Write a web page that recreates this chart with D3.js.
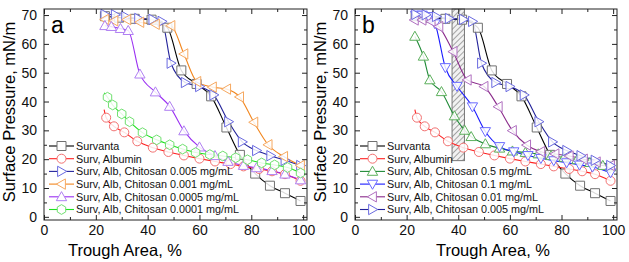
<!DOCTYPE html>
<html>
<head>
<meta charset="utf-8">
<script src="https://cdn.jsdelivr.net/npm/d3@7"></script>
<style>
  body { margin: 0; background: #fff; }
  svg { font-family: "Liberation Sans", Arial, sans-serif; }
</style>
</head>
<body>
<svg id="chart" width="629" height="262"></svg>
<script>
// tick values
const xTicks = [0, 20, 40, 60, 80, 100];
const yTicks = [0, 10, 20, 30, 40, 50, 60, 70];

// series data, [trough area %, surface pressure mN/m]
const survanta = [[23.5, 69.6], [29, 69.1], [35, 68.7], [41.5, 68.4], [47.6, 65.6], [53, 50.8], [58.9, 46.1], [64.5, 41.8], [70.4, 31], [75.6, 21.5], [81.5, 15], [87.2, 10.8], [93, 8.2], [99, 5.5]];
const albumin = [[23.2, 37.2], [24, 34.4], [27, 31.4], [31, 29.3], [36, 26.2], [42, 24], [48, 22.5], [54, 21.3], [60, 20.2], [66, 19.2], [72, 18.3], [77, 17.5], [83, 16.6], [88, 15.8], [93, 14.8], [99, 12.5]];
const chit005 = [[23.5, 70.2], [27.5, 70.1], [31.5, 69.5], [36.5, 68.8], [42, 68.5], [45.5, 67.8], [49, 53.3], [54.5, 46.6], [60, 45.2], [65.5, 42.3], [71.2, 33], [76.5, 26], [82, 23], [87.5, 21.2], [93, 19.6], [99, 17.8]];
const chit001 = [[23.5, 68.5], [27, 68], [32, 68.4], [37, 67.5], [43, 66.8], [49, 66.3], [54, 56.5], [59, 46.9], [65, 45], [70.5, 44.3], [75.5, 41.6], [81, 32.8], [86.5, 25], [92.5, 20.9], [99, 17.8]];
const chit0005 = [[23.5, 66.3], [26, 66], [29.5, 65.3], [32.5, 64.6], [37, 49.5], [43, 43.3], [48.5, 38.3], [54, 29.8], [60, 24.2], [66, 21.2], [71, 19.2], [77, 17.8], [82, 17], [88, 16], [93, 14.8], [99, 12.8]];
const chit0001 = [[23.2, 43], [24.5, 41.5], [26.5, 38.8], [30, 35.7], [33, 33], [38, 29.2], [43.5, 26.7], [48.5, 25], [53.5, 23.5], [58.5, 22.3], [64, 21.6], [69, 21.1], [74, 20.5], [78.5, 19.8], [84, 18.7], [89, 18], [94, 17.1], [99, 15.2]];
const chit05 = [[23.2, 62.6], [26.5, 55.7], [29, 47.5], [33.5, 43.4], [38.5, 35], [42.5, 30], [45, 27.8], [50.5, 25.3], [56, 23.8], [61, 22.8], [66, 22.3], [71, 21.8], [76, 21.2], [81, 20.6], [86, 19.8], [91, 18.8], [96, 17.8], [99, 17.3]];
const chit01 = [[23.5, 70], [26, 70], [28.5, 69.5], [31, 67], [35, 51.8], [39.5, 45.3], [45.5, 38.2], [50.5, 29.6], [56, 24.4], [61.5, 22.6], [67, 21.3], [72, 20.3], [77, 19.5], [82, 18.8], [87, 18], [92, 17.3], [99, 15.3]];
const chit001b = [[23, 68.3], [26, 68.3], [29.5, 67.8], [32.5, 66], [38, 57.3], [43.5, 47.5], [50, 45.2], [55.5, 38.2], [61, 29.9], [66.5, 24.9], [72, 22.6], [77.5, 21.8], [83, 21.1], [88.5, 20], [93.5, 19], [99, 17.8]];

// shaded band in panel b
const bandX = [37.6, 42.4];
const bandY = [19.5, 72.1];

// skip: first point is drawn as line only (no marker)
const panelA = [
  { name: "Survanta", data: survanta, line: "#000000", mark: "#707070", sym: "square", skip: 0 },
  { name: "Surv, Albumin", data: albumin, line: "#ff2020", mark: "#f27070", sym: "circle", skip: 1 },
  { name: "Surv, Alb, Chitosan 0.005 mg/mL", data: chit005, line: "#23239a", mark: "#6a6ae0", sym: "right", skip: 0 },
  { name: "Surv, Alb, Chitosan 0.001 mg/mL", data: chit001, line: "#f2861e", mark: "#f6a860", sym: "left", skip: 0 },
  { name: "Surv, Alb, Chitosan 0.0005 mg/mL", data: chit0005, line: "#9a2ff2", mark: "#b080f2", sym: "up", skip: 0 },
  { name: "Surv, Alb, Chitosan 0.0001 mg/mL", data: chit0001, line: "#1ee21e", mark: "#70e070", sym: "hex", skip: 1 }
];
const panelB = [
  { name: "Survanta", data: survanta, line: "#000000", mark: "#707070", sym: "square", skip: 0 },
  { name: "Surv, Albumin", data: albumin, line: "#ff2020", mark: "#f27070", sym: "circle", skip: 1 },
  { name: "Surv, Alb, Chitosan 0.5 mg/mL", data: chit05, line: "#1f8a36", mark: "#5cb05c", sym: "up", skip: 0 },
  { name: "Surv, Alb, Chitosan 0.1 mg/mL", data: chit01, line: "#1a1aff", mark: "#6a6aff", sym: "down", skip: 0 },
  { name: "Surv, Alb, Chitosan 0.01 mg/mL", data: chit001b, line: "#8a2a8a", mark: "#b070c0", sym: "left", skip: 0 },
  { name: "Surv, Alb, Chitosan 0.005 mg/mL", data: chit005, line: "#23239a", mark: "#6a6ae0", sym: "right", skip: 0 }
];

const svg = d3.select("#chart");

const defs = svg.append("defs");
const pat = defs.append("pattern")
  .attr("id", "hatch")
  .attr("patternUnits", "userSpaceOnUse")
  .attr("width", 4).attr("height", 4)
  .attr("patternTransform", "rotate(45)");
pat.append("rect").attr("width", 4).attr("height", 4).attr("fill", "#f2f2f2");
pat.append("line").attr("x1", 0).attr("y1", 0).attr("x2", 0).attr("y2", 4)
  .attr("stroke", "#555").attr("stroke-width", 1);

// marker shapes
function symbolPath(type, r) {
  if (type === "circle") return d3.symbol(d3.symbolCircle, Math.PI * r * r)();
  if (type === "square") return `M${-r},${-r}H${r}V${r}H${-r}Z`;
  if (type === "hex") {
    const pts = d3.range(6).map(i => {
      const a = Math.PI / 6 + i * Math.PI / 3;
      return [r * 1.08 * Math.cos(a), r * 1.08 * Math.sin(a)];
    });
    return "M" + pts.join("L") + "Z";
  }
  const t = r * 1.15;
  const tri = { up: [[0, -t], [t, t * 0.75], [-t, t * 0.75]],
                down: [[0, t], [t, -t * 0.75], [-t, -t * 0.75]],
                right: [[t, 0], [-t * 0.75, t], [-t * 0.75, -t]],
                left: [[-t, 0], [t * 0.75, t], [t * 0.75, -t]] }[type];
  return "M" + tri.join("L") + "Z";
}

function drawPanel(series, left, right, label, titleX, legendX, band) {
  const top = 9, bottom = 220;
  const x = d3.scaleLinear().domain([0, 101.5]).range([left, right]);
  const y = d3.scaleLinear().domain([-1.1, 72.1]).range([bottom, top]);
  const g = svg.append("g");

  if (band) {
    g.append("rect")
      .attr("x", x(band[0][0])).attr("y", y(band[1][1]))
      .attr("width", x(band[0][1]) - x(band[0][0]))
      .attr("height", y(band[1][0]) - y(band[1][1]))
      .attr("fill", "url(#hatch)")
      .attr("stroke", "#777").attr("stroke-width", 1);
  }

  const line = d3.line().x(d => x(d[0])).y(d => y(d[1])).curve(d3.curveMonotoneX);

  series.forEach(s => {
    g.append("path").datum(s.data)
      .attr("d", line).attr("fill", "none")
      .attr("stroke", s.line).attr("stroke-width", 1.1);
  });
  series.forEach(s => {
    g.selectAll(null).data(s.data.slice(s.skip)).enter().append("path")
      .attr("d", symbolPath(s.sym, 4.5))
      .attr("transform", d => `translate(${x(d[0])},${y(d[1])})`)
      .attr("fill", "#fff").attr("fill-opacity", 0.85)
      .attr("stroke", s.mark).attr("stroke-width", 1);
  });

  // axes, ticks inward on all four sides
  const xMinor = d3.range(10, 101, 20);
  const yMinor = d3.range(5, 71, 10);
  g.append("g").attr("transform", `translate(0,${bottom})`)
    .call(d3.axisBottom(x).tickValues(xTicks).tickSize(-5).tickPadding(5));
  g.append("g").attr("transform", `translate(0,${bottom})`)
    .call(d3.axisBottom(x).tickValues(xMinor).tickSize(-3).tickFormat(""));
  g.append("g").attr("transform", `translate(0,${top})`)
    .call(d3.axisTop(x).tickValues(xTicks).tickSize(-5).tickFormat(""));
  g.append("g").attr("transform", `translate(0,${top})`)
    .call(d3.axisTop(x).tickValues(xMinor).tickSize(-3).tickFormat(""));
  g.append("g").attr("transform", `translate(${left},0)`)
    .call(d3.axisLeft(y).tickValues(yTicks).tickSize(-5).tickPadding(7));
  g.append("g").attr("transform", `translate(${left},0)`)
    .call(d3.axisLeft(y).tickValues(yMinor).tickSize(-3).tickFormat(""));
  g.append("g").attr("transform", `translate(${right},0)`)
    .call(d3.axisRight(y).tickValues(yTicks).tickSize(-5).tickFormat(""));
  g.append("g").attr("transform", `translate(${right},0)`)
    .call(d3.axisRight(y).tickValues(yMinor).tickSize(-3).tickFormat(""));
  g.selectAll(".domain").remove();
  g.selectAll(".tick line").attr("stroke", "#222");
  g.selectAll(".tick text").attr("font-size", 14).attr("fill", "#111")
    .attr("font-family", "Liberation Sans, Arial, sans-serif");

  g.append("rect").attr("x", left).attr("y", top)
    .attr("width", right - left).attr("height", bottom - top)
    .attr("fill", "none").attr("stroke", "#222").attr("stroke-width", 1);

  g.append("text").attr("x", left + 7).attr("y", 33)
    .attr("font-size", 23).attr("fill", "#000").text(label);

  g.append("text").attr("x", titleX).attr("y", 256)
    .attr("text-anchor", "middle").attr("font-size", 16.5).attr("fill", "#000")
    .text("Trough Area, %");
  g.append("text")
    .attr("transform", `translate(${left - 29},${112}) rotate(-90)`)
    .attr("text-anchor", "middle").attr("font-size", 16.5).attr("fill", "#000")
    .text("Surface Pressure, mN/m");

  // legend
  const leg = g.append("g");
  series.forEach((s, i) => {
    const ly = 146 + i * 12.7;
    leg.append("line").attr("x1", legendX).attr("x2", legendX + 25)
      .attr("y1", ly).attr("y2", ly).attr("stroke", s.line).attr("stroke-width", 1.1);
    leg.append("path").attr("d", symbolPath(s.sym, 4.5))
      .attr("transform", `translate(${legendX + 12.5},${ly})`)
      .attr("fill", "#fff").attr("stroke", s.mark);
    leg.append("text").attr("x", legendX + 27).attr("y", ly + 3.9)
      .attr("font-size", 10.8).attr("fill", "#111").text(s.name);
  });
}

drawPanel(panelA, 44, 307, "a", 125, 49, null);
drawPanel(panelB, 355, 617, "b", 493, 360, [bandX, bandY]);
</script>
</body>
</html>
